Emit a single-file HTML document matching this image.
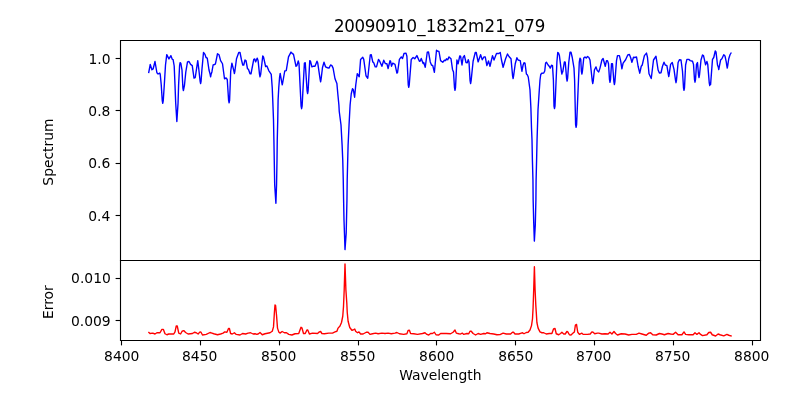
<!DOCTYPE html>
<html lang="en"><head><meta charset="utf-8"><title>20090910_1832m21_079</title>
<style>
html,body{margin:0;padding:0;background:#fff;}
body{width:800px;height:400px;overflow:hidden;}
svg{display:block;}
text{font-family:"DejaVu Sans","Liberation Sans",sans-serif;fill:#000;}
.t{font-size:13.889px;}
.ti{font-size:16.667px;}
.sp{stroke:#000;stroke-width:1.11;fill:none;stroke-linecap:square;}
.tk{stroke:#000;stroke-width:1.11;fill:none;}
</style></head><body>
<svg width="800" height="400" viewBox="0 0 800 400">
<rect x="0" y="0" width="800" height="400" fill="#fff"/>
<clipPath id="c1"><rect x="120" y="40" width="640" height="220"/></clipPath>
<clipPath id="c2"><rect x="120" y="260" width="640" height="80"/></clipPath>
<path clip-path="url(#c1)" d="M148.75,72.50 L150.25,64.40 L151.90,69.75 L153.10,69.00 L155.00,61.50 L156.90,72.75 L158.10,74.00 L159.75,73.10 L160.25,74.50 L161.25,85.00 L162.25,100.70 L162.75,103.30 L163.25,100.70 L164.35,84.00 L165.50,65.00 L166.75,54.60 L168.95,58.90 L170.90,55.70 L172.25,59.25 L173.10,59.70 L174.20,66.00 L175.00,85.00 L175.70,103.00 L176.85,121.50 L178.05,103.00 L178.60,85.00 L179.60,65.50 L180.10,62.60 L180.80,63.20 L182.00,70.00 L182.90,88.00 L183.40,90.60 L183.90,88.00 L184.50,85.00 L185.80,72.00 L187.50,61.90 L189.00,61.50 L190.60,64.40 L192.25,65.60 L194.00,78.10 L195.25,77.50 L197.75,60.60 L198.75,68.75 L200.10,81.00 L200.60,83.60 L201.10,81.00 L201.90,70.00 L203.50,52.50 L205.00,54.40 L206.00,57.50 L207.25,58.10 L209.00,70.00 L210.10,74.15 L210.60,76.75 L211.10,74.15 L211.90,71.90 L213.10,65.00 L215.00,64.40 L215.60,63.10 L217.50,53.75 L219.00,54.75 L220.60,60.60 L222.50,63.75 L224.50,78.75 L226.10,78.00 L227.25,79.50 L228.60,100.30 L229.10,102.90 L229.60,100.30 L230.70,71.25 L231.90,63.10 L233.90,71.00 L234.40,73.60 L234.90,71.00 L236.50,58.75 L238.75,52.50 L240.00,52.50 L241.50,60.00 L242.75,65.00 L243.75,65.00 L245.00,60.00 L246.00,60.60 L247.50,68.75 L248.50,69.40 L250.00,73.75 L251.00,73.75 L253.75,59.40 L254.75,59.00 L255.60,61.90 L257.25,58.10 L258.10,60.60 L259.50,74.15 L260.00,76.75 L260.50,74.15 L260.60,75.00 L262.75,56.00 L263.50,56.90 L265.60,66.50 L266.90,66.00 L268.75,70.60 L271.25,74.40 L272.25,88.00 L272.75,100.00 L273.50,120.00 L273.90,140.00 L274.25,160.00 L274.70,185.00 L275.90,203.30 L276.55,185.00 L277.00,160.00 L277.25,140.00 L277.75,120.00 L278.10,100.00 L278.75,88.00 L279.60,77.00 L280.20,73.40 L281.75,82.30 L282.25,84.90 L282.75,82.30 L284.75,71.00 L286.25,70.60 L288.50,56.90 L291.00,52.10 L291.90,53.10 L293.50,54.40 L296.00,66.25 L296.90,65.60 L298.25,61.00 L299.00,63.75 L301.10,106.10 L301.60,108.70 L302.10,106.10 L304.40,63.10 L305.25,62.75 L307.10,90.90 L307.60,93.50 L308.10,90.90 L309.75,60.60 L310.40,61.00 L311.90,66.90 L313.10,66.25 L315.00,66.25 L317.00,61.25 L317.75,63.10 L320.10,79.15 L320.60,81.75 L321.10,79.15 L322.50,67.50 L324.00,62.25 L325.60,66.90 L327.50,67.75 L329.00,68.10 L330.60,65.00 L331.90,65.60 L333.10,68.10 L335.00,78.75 L336.90,83.50 L337.80,93.75 L338.90,105.00 L339.25,111.50 L341.00,125.00 L342.10,145.00 L342.75,160.00 L343.25,180.00 L343.60,200.00 L344.00,220.00 L344.45,233.00 L345.00,249.60 L346.20,233.00 L346.50,220.00 L346.95,200.00 L347.20,180.00 L347.70,160.00 L348.10,145.00 L349.05,125.00 L350.10,105.00 L351.25,93.75 L352.50,88.75 L353.40,90.00 L354.60,97.25 L355.75,85.00 L357.25,73.75 L359.25,76.75 L360.60,59.40 L362.75,57.25 L363.75,59.40 L366.00,75.75 L367.75,78.25 L370.25,55.00 L371.25,54.75 L372.75,61.90 L373.75,62.75 L375.25,66.90 L376.50,66.90 L378.50,59.40 L379.40,60.60 L380.25,62.50 L381.90,66.25 L383.75,60.25 L385.25,63.50 L386.90,63.75 L388.10,68.50 L390.00,60.60 L390.60,61.25 L391.50,66.25 L392.75,63.10 L395.00,64.40 L396.90,73.10 L397.50,72.75 L399.40,59.40 L401.25,56.90 L402.50,58.50 L404.00,53.50 L406.00,53.10 L406.90,56.25 L408.25,84.80 L408.75,87.40 L409.25,84.80 L411.25,59.40 L413.10,57.50 L414.75,58.75 L416.90,55.60 L419.40,61.25 L420.25,61.00 L421.25,58.50 L423.10,63.50 L423.75,62.50 L425.25,67.25 L427.25,52.25 L428.50,51.90 L430.25,61.90 L431.50,65.00 L432.75,65.60 L434.40,72.25 L436.50,50.20 L437.75,51.25 L439.00,51.50 L440.60,60.60 L442.75,62.25 L444.40,60.25 L445.60,60.60 L446.50,58.75 L447.75,59.75 L449.00,56.90 L451.00,58.75 L452.50,69.40 L453.50,71.90 L454.50,87.70 L455.00,90.30 L455.50,87.70 L456.90,60.00 L458.10,63.75 L459.75,56.00 L460.60,56.25 L462.00,65.00 L463.10,57.50 L464.40,55.60 L466.00,62.50 L467.25,62.75 L468.25,59.75 L469.00,61.90 L470.10,80.90 L470.60,83.50 L471.10,80.90 L473.10,61.25 L475.25,52.50 L476.25,52.50 L478.10,61.90 L480.60,54.75 L482.25,59.75 L484.00,56.90 L485.25,56.90 L486.90,65.60 L488.50,61.00 L490.00,66.25 L492.50,55.60 L494.00,60.00 L496.50,53.50 L498.75,53.50 L500.25,52.50 L501.50,60.00 L503.10,67.25 L505.60,58.75 L507.50,54.00 L509.00,56.50 L511.00,58.75 L512.60,75.90 L513.10,78.50 L513.60,75.90 L515.25,63.75 L516.90,57.75 L518.10,60.00 L520.25,60.60 L521.90,71.25 L523.10,65.00 L524.00,62.75 L525.00,63.10 L526.40,73.90 L527.25,74.75 L528.25,77.00 L529.00,82.50 L530.00,90.00 L530.90,108.00 L531.50,128.00 L532.00,140.00 L532.40,160.00 L532.95,180.00 L533.15,200.00 L533.70,222.00 L534.35,241.10 L535.30,225.00 L535.90,200.00 L536.10,180.00 L536.60,160.00 L537.05,140.00 L537.70,120.00 L538.00,110.00 L539.30,90.00 L540.00,80.00 L540.75,74.50 L541.75,73.25 L543.75,73.00 L544.75,71.00 L545.60,63.10 L546.50,62.25 L548.10,65.00 L549.40,66.50 L550.25,68.10 L551.50,65.25 L552.50,65.60 L553.40,80.00 L554.00,106.00 L554.50,108.60 L555.00,106.00 L556.90,62.00 L557.75,52.50 L558.50,53.10 L559.40,55.60 L561.40,71.40 L561.90,74.00 L562.40,71.40 L562.75,71.90 L564.40,61.90 L565.25,62.25 L566.60,78.40 L567.10,81.00 L567.60,78.40 L568.75,62.50 L570.00,52.25 L571.00,52.25 L572.25,57.50 L574.00,68.10 L574.60,80.00 L575.60,124.70 L576.10,127.30 L576.60,124.70 L578.50,80.00 L579.30,62.00 L580.00,58.10 L580.75,59.40 L581.40,71.40 L581.90,74.00 L582.40,71.40 L583.75,58.10 L585.00,56.90 L586.25,58.10 L587.50,56.50 L588.75,57.25 L590.00,60.00 L592.25,80.90 L592.75,83.50 L593.25,80.90 L594.40,70.00 L596.00,66.90 L597.25,70.60 L598.75,71.90 L600.00,68.10 L601.90,60.00 L603.10,58.50 L605.25,66.25 L606.50,60.60 L607.50,60.60 L608.50,63.75 L609.50,79.70 L610.00,82.30 L610.50,79.70 L611.50,63.75 L612.50,63.75 L613.90,81.90 L614.40,84.50 L614.90,81.90 L616.50,60.60 L617.50,55.60 L619.40,55.60 L620.60,60.60 L621.90,68.80 L623.10,63.10 L625.60,59.75 L627.75,55.00 L629.40,54.40 L630.60,57.50 L631.90,62.25 L633.50,57.25 L635.00,57.50 L636.50,56.90 L638.10,66.25 L639.75,73.20 L641.25,66.25 L642.25,65.00 L644.40,55.60 L646.50,53.10 L647.50,57.50 L649.00,73.75 L651.25,78.50 L653.50,60.00 L656.00,56.25 L658.10,70.00 L659.40,73.10 L661.00,72.75 L662.50,66.25 L664.00,62.25 L665.25,65.00 L666.90,65.60 L668.25,73.90 L668.75,76.50 L669.25,73.90 L670.60,64.40 L672.25,62.50 L674.00,69.40 L675.50,80.10 L676.00,82.70 L676.50,80.10 L678.10,62.50 L679.40,59.75 L681.00,60.00 L682.50,71.25 L683.50,87.80 L684.00,90.40 L684.50,87.80 L685.60,65.00 L686.90,59.40 L688.75,59.40 L690.25,60.60 L692.50,61.25 L693.50,64.40 L694.50,79.60 L695.00,82.20 L695.50,79.60 L696.50,64.40 L697.50,62.50 L698.50,74.90 L699.00,77.50 L699.50,74.90 L701.00,60.00 L702.50,55.00 L703.50,55.60 L705.60,64.75 L706.90,61.50 L707.75,64.40 L709.25,82.90 L709.75,85.50 L710.25,82.90 L710.60,84.40 L712.50,59.40 L713.75,57.50 L715.25,51.00 L716.00,51.90 L717.50,65.00 L718.25,66.90 L718.75,69.50 L719.25,66.90 L720.60,60.00 L721.90,58.75 L723.75,54.75 L725.00,56.00 L726.25,61.90 L726.75,65.40 L727.25,68.00 L727.75,65.40 L728.75,58.75 L730.00,54.75 L731.00,53.10" fill="none" stroke="#0000ff" stroke-width="1.389" stroke-linejoin="round" stroke-linecap="square"/>
<path clip-path="url(#c2)" d="M148.90,332.50 L150.00,333.50 L152.75,333.10 L155.00,334.00 L156.90,332.75 L160.00,332.75 L161.90,329.40 L163.40,329.40 L165.00,333.75 L166.90,334.75 L168.75,334.00 L173.75,334.00 L175.00,331.90 L176.25,326.00 L177.25,326.00 L178.75,333.10 L180.60,334.00 L182.10,331.25 L183.75,330.60 L185.60,332.50 L188.10,334.00 L192.50,333.50 L194.40,332.25 L196.25,332.75 L198.10,334.00 L200.00,331.90 L201.00,332.25 L202.50,335.00 L206.25,334.40 L210.00,332.50 L211.90,333.10 L213.75,333.75 L217.50,334.75 L220.60,334.00 L223.10,333.10 L224.75,331.90 L226.90,332.25 L228.50,328.50 L229.40,328.50 L230.60,333.50 L232.25,334.00 L234.40,332.75 L236.25,334.40 L240.00,335.00 L242.50,333.50 L245.60,334.00 L248.10,333.10 L250.60,332.75 L253.10,334.00 L255.00,333.75 L256.90,334.40 L258.50,333.75 L260.00,332.50 L262.25,334.75 L265.00,333.75 L270.00,332.75 L272.25,331.25 L273.50,326.90 L274.40,312.50 L275.00,305.00 L275.60,305.60 L276.50,315.00 L277.50,328.10 L278.75,331.90 L280.00,333.10 L282.10,331.50 L284.40,332.75 L286.50,332.75 L288.75,334.40 L291.90,335.00 L295.00,333.75 L298.75,333.50 L300.00,330.00 L301.00,327.25 L301.90,327.75 L303.50,333.50 L305.25,333.50 L306.90,330.00 L307.75,330.00 L309.40,334.00 L312.50,333.10 L317.50,333.50 L319.40,331.90 L320.60,331.50 L321.90,333.50 L324.40,333.75 L328.75,333.10 L332.50,333.10 L335.00,331.90 L336.90,331.25 L338.10,328.10 L340.00,326.00 L341.50,322.50 L342.75,316.25 L343.50,306.50 L344.20,290.00 L345.00,264.00 L345.90,290.00 L346.80,303.00 L347.25,312.50 L348.10,321.25 L349.75,327.50 L351.90,330.25 L353.10,330.00 L354.75,329.00 L355.60,331.25 L357.50,332.75 L359.00,331.90 L360.60,334.00 L363.10,334.00 L366.25,332.25 L368.10,332.25 L370.00,334.40 L372.50,333.75 L375.60,333.10 L378.10,333.75 L381.90,333.10 L385.00,333.50 L388.10,333.10 L391.25,333.75 L395.00,333.10 L396.90,332.50 L399.40,333.75 L403.75,334.40 L406.90,333.75 L408.10,330.40 L409.40,330.25 L410.60,333.50 L413.75,333.75 L417.50,334.40 L422.50,333.50 L425.00,332.75 L426.90,334.40 L428.75,335.00 L430.60,333.50 L432.50,333.50 L434.40,332.25 L436.00,334.75 L438.75,335.00 L440.60,333.50 L446.25,333.50 L450.60,333.75 L453.10,332.25 L455.00,330.00 L456.25,333.10 L458.75,333.75 L460.60,334.00 L462.25,333.10 L463.75,334.40 L466.90,333.50 L468.75,333.75 L470.00,331.25 L471.25,331.25 L473.10,333.50 L475.60,335.00 L478.10,333.50 L480.60,334.40 L483.75,333.50 L485.60,333.75 L486.90,332.75 L490.00,333.50 L493.75,334.00 L496.90,334.75 L500.00,334.60 L503.10,333.10 L506.25,334.00 L510.60,334.00 L512.50,332.25 L513.50,332.25 L515.00,334.00 L518.75,334.00 L521.25,333.10 L522.50,332.75 L524.00,333.75 L526.25,332.50 L528.10,332.25 L530.00,330.00 L531.50,325.60 L532.50,318.75 L533.10,307.50 L533.70,290.00 L534.40,266.80 L535.10,290.00 L535.80,305.00 L536.25,312.00 L536.90,322.50 L538.10,328.10 L540.00,331.90 L541.90,332.75 L543.75,332.75 L546.25,334.00 L549.40,333.50 L551.90,333.50 L553.50,329.00 L555.00,328.50 L556.25,333.75 L558.75,334.75 L560.60,333.50 L561.90,332.25 L563.75,334.00 L565.25,334.00 L566.90,331.50 L567.75,331.90 L569.40,334.75 L571.00,335.00 L573.10,333.10 L574.40,331.90 L575.40,325.00 L576.50,324.40 L577.75,332.25 L579.40,334.40 L581.90,333.10 L583.10,334.40 L587.50,334.40 L590.25,334.00 L591.90,331.90 L593.10,332.25 L594.75,333.75 L597.50,333.10 L598.75,333.10 L601.90,334.00 L605.00,333.75 L608.10,334.00 L610.00,332.25 L611.90,334.00 L614.00,331.50 L615.60,333.50 L617.50,335.00 L621.25,333.75 L625.00,334.00 L628.75,335.00 L631.90,334.40 L636.25,334.40 L639.00,333.10 L641.90,334.00 L646.25,335.25 L648.75,333.10 L650.60,332.75 L652.75,334.75 L656.25,335.00 L659.40,333.50 L661.90,334.00 L664.40,334.75 L668.10,333.50 L670.60,334.00 L673.10,334.40 L675.60,332.25 L678.10,334.75 L681.90,334.75 L684.00,331.90 L685.60,334.40 L688.75,334.75 L693.10,334.75 L695.00,332.75 L696.90,334.40 L699.00,332.75 L700.60,334.40 L702.50,335.60 L706.90,334.75 L708.75,332.50 L710.60,332.25 L712.25,334.75 L715.60,336.00 L718.10,334.00 L720.00,334.75 L723.75,335.80 L726.90,334.40 L728.75,335.25 L731.10,336.00" fill="none" stroke="#ff0000" stroke-width="1.389" stroke-linejoin="round" stroke-linecap="square"/>
<path class="tk" d="M121.5,340.5 V345.4"/>
<path class="tk" d="M200.5,340.5 V345.4"/>
<path class="tk" d="M279.5,340.5 V345.4"/>
<path class="tk" d="M358.5,340.5 V345.4"/>
<path class="tk" d="M436.5,340.5 V345.4"/>
<path class="tk" d="M515.5,340.5 V345.4"/>
<path class="tk" d="M594.5,340.5 V345.4"/>
<path class="tk" d="M673.5,340.5 V345.4"/>
<path class="tk" d="M752.5,340.5 V345.4"/>
<path class="tk" d="M120.5,58.5 H115.6"/>
<path class="tk" d="M120.5,110.5 H115.6"/>
<path class="tk" d="M120.5,163.5 H115.6"/>
<path class="tk" d="M120.5,215.5 H115.6"/>
<path class="tk" d="M120.5,278.5 H115.6"/>
<path class="tk" d="M120.5,320.5 H115.6"/>
<path class="sp" d="M120.5,40.5 H760.5 V340.5 H120.5 Z"/>
<path class="sp" d="M120.5,260.5 H760.5"/>
<text class="t" x="121.77" y="361.35" text-anchor="middle">8400</text>
<text class="t" x="199.70" y="361.35" text-anchor="middle">8450</text>
<text class="t" x="278.70" y="361.35" text-anchor="middle">8500</text>
<text class="t" x="357.67" y="361.35" text-anchor="middle">8550</text>
<text class="t" x="436.78" y="361.35" text-anchor="middle">8600</text>
<text class="t" x="515.80" y="361.35" text-anchor="middle">8650</text>
<text class="t" x="593.74" y="361.35" text-anchor="middle">8700</text>
<text class="t" x="672.67" y="361.35" text-anchor="middle">8750</text>
<text class="t" x="751.77" y="361.35" text-anchor="middle">8800</text>
<text class="t" x="110.50" y="64.35" text-anchor="end">1.0</text>
<text class="t" x="110.40" y="115.83" text-anchor="end">0.8</text>
<text class="t" x="110.30" y="168.30" text-anchor="end">0.6</text>
<text class="t" x="110.30" y="220.65" text-anchor="end">0.4</text>
<text class="t" x="110.80" y="283.37" text-anchor="end">0.010</text>
<text class="t" x="110.65" y="325.77" text-anchor="end">0.009</text>
<text class="ti" transform="translate(0,32.0) scale(1,1.02)" x="333.98 344.30 354.58 364.86 375.07 385.50 395.94 406.57 417.38 425.70 436.18 446.90 457.43 467.96 484.41 495.15 505.51 514.03 524.36 534.67" y="0">20090910_1832m21_079</text>
<text class="t" x="440.3" y="380" text-anchor="middle">Wavelength</text>
<text class="t" transform="translate(52.6,152.05) rotate(-90)" text-anchor="middle">Spectrum</text>
<text class="t" transform="translate(52.6,302.1) rotate(-90)" text-anchor="middle">Error</text>
</svg></body></html>
